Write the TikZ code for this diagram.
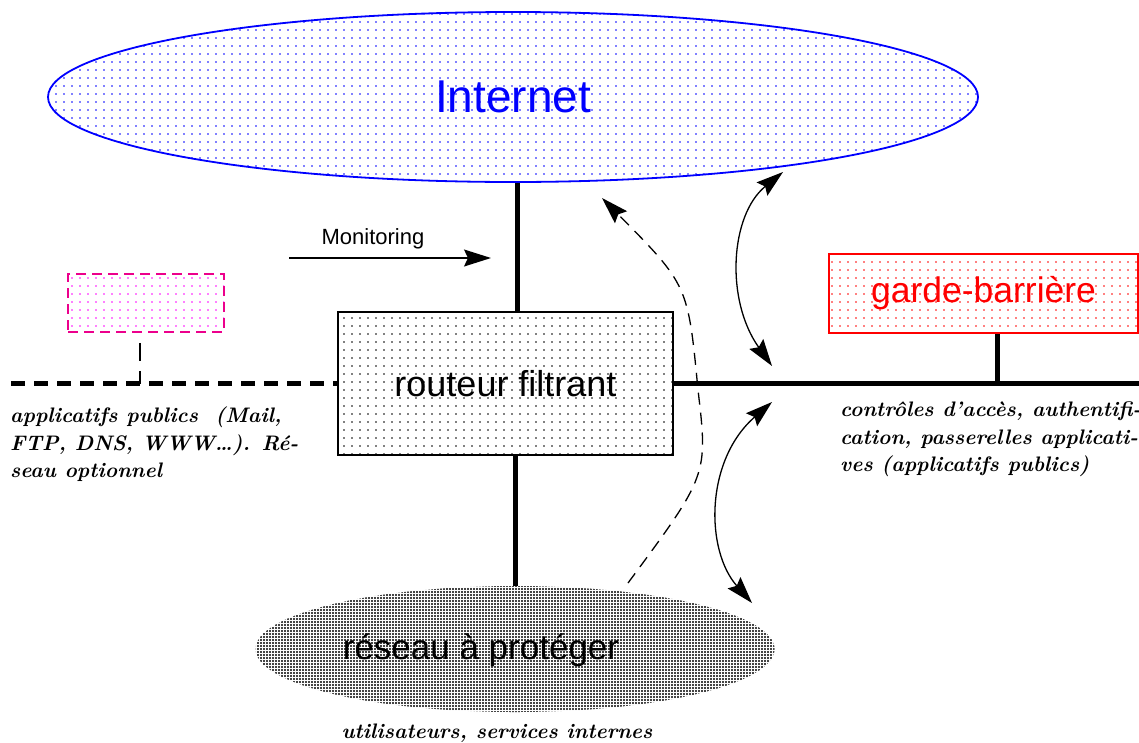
\documentclass[tikz,border=0pt]{standalone}
\usepackage{fontspec}
\newfontfamily\helv{Liberation Sans}
\usetikzlibrary{arrows.meta,patterns,shapes.geometric}

\pgfdeclarepatternformonly{sparse dots}{\pgfqpoint{-1pt}{-1pt}}{\pgfqpoint{1pt}{1pt}}{\pgfqpoint{8pt}{8pt}}%
  {\pgfpathcircle{\pgfqpoint{0pt}{0pt}}{.8pt}\pgfusepath{fill}}
\pgfdeclarepatternformonly{dense dots}{\pgfqpoint{-1pt}{-1pt}}{\pgfqpoint{1pt}{1pt}}{\pgfqpoint{3pt}{3pt}}%
  {\pgfpathcircle{\pgfqpoint{0pt}{0pt}}{1.05pt}\pgfusepath{fill}}

\tikzset{
  bus/.style={line width=5pt},
  sans/.style={font=\helv\fontsize{#1}{#1}\selectfont},
  note/.style={font=\bfseries\itshape\fontsize{21}{27.5}\selectfont,align=left,inner sep=0pt},
  flow/.style={line width=1.3pt,arrows={-Stealth[length=27pt,width=17pt,inset=4pt]}},
  both/.style={line width=1.3pt,arrows={Stealth[length=27pt,width=17pt,inset=4pt]-Stealth[length=27pt,width=17pt,inset=4pt]}},
}

\begin{document}
\begin{tikzpicture}[x=1pt,y=-1pt]
\useasboundingbox (0,0) rectangle (1139,742);

\node[ellipse,draw=blue,line width=1.8pt,pattern=sparse dots,pattern color=blue,
  minimum width=930pt,minimum height=170pt,inner sep=0pt,text=blue,sans=46] (inet) at (513,97) {Internet\hspace{16pt}};
\node[draw,line width=1.6pt,pattern=sparse dots,minimum width=335pt,minimum height=143pt,sans=36] (router) at (505.5,383.5) {routeur filtrant};
\node[draw=red,line width=1.5pt,pattern=sparse dots,pattern color=red,minimum width=309pt,minimum height=79pt,
  text=red,sans=35.5] (garde) at (983.5,293.5) {garde-barrière};
\node[draw=magenta,line width=1.5pt,dash pattern=on 10pt off 6pt,pattern=sparse dots,pattern color=magenta,
  minimum width=156pt,minimum height=58pt] (pub) at (146,303) {};
\node[ellipse,pattern=dense dots,minimum width=519pt,minimum height=126pt] (lan) at (515,649) {};
\node[sans=35] (lanlabel) at (481,650) {réseau à protéger};

\coordinate (busW) at (11,378);
\coordinate (busE) at (1139,382);
\draw[bus] ([xshift=4pt]inet.south) -- ([xshift=4pt]inet.south |- router.north);
\draw[bus] (router.east) -- (router.east -| busE);
\draw[bus,dash pattern=on 14pt off 9pt] (router.west -| busW) -- (router.west);
\draw[bus] (router.south -| lan.north) -- (lan.north);
\draw[bus] ([xshift=14pt]garde.south) -- ([xshift=14pt]garde.south |- router.east);
\draw[line width=1.2pt,dash pattern=on 18pt off 10pt] ([xshift=-6pt,yshift=-10pt]pub.south) -- ([xshift=-6pt]pub.south |- router.west);

\coordinate (monA) at (289,258);
\coordinate (monB) at (491,258);
\draw[flow] (monA) -- (monB);
\node[sans=22] (monlabel) at (373,239) {Monitoring};

\coordinate (upA) at (783,172);
\coordinate (upB) at (772,366);
\draw[both] (upB) .. controls (725,300) and (730,215) .. (upA);
\coordinate (loA) at (772,402);
\coordinate (loB) at (752,603);
\draw[both] (loA) .. controls (705,460) and (705,550) .. (loB);
\coordinate (dashA) at (628,583);
\coordinate (dashB) at (602,198);
\draw[flow,dash pattern=on 12pt off 8pt] (dashA) .. controls (708,475) .. (698,390) .. controls (688,285) .. (dashB);

\node[note,anchor=north west] (pubnote) at (10,407) {applicatifs publics~ (Mail,\\FTP, DNS, WWW\ldots). Ré-\\seau optionnel};
\node[note,anchor=north west] (gardenote) at (840,402) {contrôles d’accès, authentifi-\\cation, passerelles applicati-\\ves (applicatifs publics)};
\node[note] (lannote) at (497,733) {utilisateurs, services internes};
\end{tikzpicture}
\end{document}
